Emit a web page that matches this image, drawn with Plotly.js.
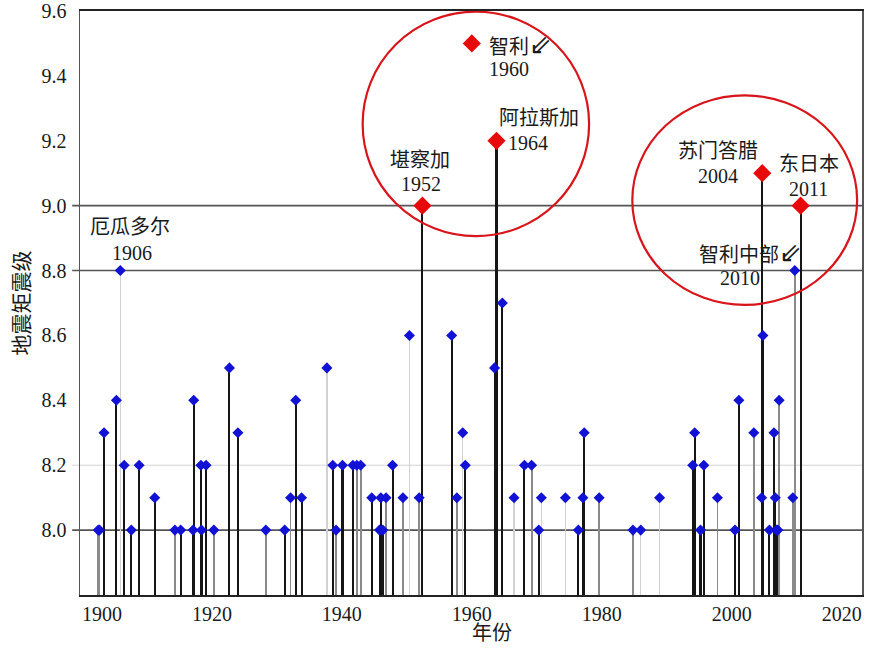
<!DOCTYPE html>
<html>
<head>
<meta charset="utf-8">
<script src="https://cdn.plot.ly/plotly-3.0.1.min.js"></script>
<style>html,body{margin:0;padding:0;background:#fff;}#chart{width:879px;height:648px;}</style>
</head>
<body>
<div id="chart"></div>
<script>
// ---- data: earthquakes of magnitude >= 8.0 ----
const years = [1902.5,1902.7,1903.4,1905.3,1905.9,1906.5,1907.6,1908.8,1911.2,1914.3,
  1915.2,1917.1,1917.2,1918.3,1918.4,1919.1,1920.3,1922.7,1924.0,1928.3,
  1931.2,1932.1,1932.9,1933.8,1937.7,1938.6,1939.1,1940.1,1941.7,1942.3,
  1942.9,1944.6,1945.8,1946.0,1946.3,1946.8,1947.8,1949.4,1950.4,1951.9,
  1956.9,1957.7,1958.6,1959.0,1963.5,1964.7,1966.5,1968.1,1969.2,1970.3,
  1970.7,1974.4,1976.4,1977.1,1977.3,1979.6,1984.8,1986.0,1988.9,1994.0,
  1994.3,1995.2,1995.7,1997.8,2000.5,2001.1,2003.4,2004.6,2004.8,2005.8,
  2006.5,2006.7,2006.9,2007.1,2007.3,2009.4,2009.7];
const mags = [8.0,8.0,8.3,8.4,8.8,8.2,8.0,8.2,8.1,8.0,
  8.0,8.0,8.4,8.2,8.0,8.2,8.0,8.5,8.3,8.0,
  8.0,8.1,8.4,8.1,8.5,8.2,8.0,8.2,8.2,8.2,
  8.2,8.1,8.0,8.1,8.0,8.1,8.2,8.1,8.6,8.1,
  8.6,8.1,8.3,8.2,8.5,8.7,8.1,8.2,8.2,8.0,
  8.1,8.1,8.0,8.1,8.3,8.1,8.0,8.0,8.1,8.2,
  8.3,8.0,8.2,8.1,8.0,8.4,8.3,8.1,8.6,8.0,
  8.3,8.1,8.0,8.0,8.4,8.1,8.8];
const stemTone = ['mid','mid','dark','dark','light','dark','dark','dark','dark','mid',
  'dark','dark','dark','dark','dark','dark','mid','dark','dark','mid',
  'dark','mid','dark','dark','light','dark','mid','dark','dark','mid',
  'mid','dark','dark','dark','dark','mid','dark','mid','light','mid',
  'dark','mid','light','dark','dark','dark','light','dark','mid','dark',
  'light','light','dark','dark','dark','mid','mid','light','light','dark',
  'dark','dark','dark','mid','dark','dark','mid','dark','dark','dark',
  'dark','dark','dark','dark','mid','mid','mid'];

// the largest events (highlighted in red)
const majorYears = [1952.4, 1960.0, 1963.8, 2004.7, 2010.6];
const majorMags  = [9.0, 9.5, 9.2, 9.1, 9.0];
const majorStemTone = ['dark','none','dark','dark','dark'];

// labelled events
const labelNames = ['厄瓜多尔','堪察加','智利','阿拉斯加','苏门答腊','智利中部','东日本'];
const labelArrow = [false,false,true,false,false,true,false];
const labelYearText = ['1906','1952','1960','1964','2004','2010','2011'];
const labelX   = [1905.9, 1952.4, 1960.0, 1963.8, 2004.7, 2009.7, 2010.6];
const labelMag = [8.8, 9.0, 9.5, 9.2, 9.1, 8.8, 9.0];

const xTicksInner = [1920,1940,1960,1980,2000];
const xTickFirst = [1900];
const xTickLast = [2020];
const yTicks = [8.0,8.2,8.4,8.6,8.8,9.0,9.2,9.4,9.6];

// ---- styling ----
const toneColor = {dark:'#151515', mid:'#8a8a8a', light:'#d2d2d2', none:'rgba(0,0,0,0)'};
const toneWidth = {dark:0.32, mid:0.28, light:0.22, none:0.2};
const FONT = "'Liberation Serif', 'Noto Sans CJK SC', serif";
const TXT = '#1a1a1a';
const X_RANGE = [1899.7, 2020.05];

const allX = years.concat(majorYears);
const allY = mags.concat(majorMags);
const allTone = stemTone.concat(majorStemTone);

const stems = {
  type:'bar', x: allX, y: allY,
  width: allTone.map(t => toneWidth[t]),
  marker:{color: allTone.map(t => toneColor[t]), line:{width:0}},
  hoverinfo:'skip', showlegend:false
};
const bluePts = {
  type:'scatter', mode:'markers', x: years, y: mags,
  marker:{symbol:'diamond', size:8.5, color:'#1212d4'},
  showlegend:false
};
const redPts = {
  type:'scatter', mode:'markers', x: majorYears, y: majorMags,
  marker:{symbol:'diamond', size:14, color:'#e80a0a'},
  showlegend:false
};
// empty carriers so the end-label axes are drawn
const axisCarrier2 = {type:'scatter', mode:'markers', x:[], y:[], xaxis:'x2', yaxis:'y', showlegend:false, hoverinfo:'skip'};
const axisCarrier3 = {type:'scatter', mode:'markers', x:[], y:[], xaxis:'x3', yaxis:'y', showlegend:false, hoverinfo:'skip'};

// label offsets in pixels: [name dx, name dy, year dx, year dy, name xanchor, year xanchor]
const labelOffsets = [
  [10,-44, 12,-18,'center','center'],
  [-2,-46, -1,-22,'center','center'],
  [15, 1, 15, 26,'left','left'],
  [42,-23, 31, 2,'center','center'],
  [-44,-22,-44, 3,'center','center'],
  [-98,-18,-55, 7,'left','center'],
  [8,-42, 8,-17,'center','center']
];
const ARROW = "<span style=\"font-family:'DejaVu Sans';font-size:27px\">⇙</span>";
const annotations = [];
labelNames.forEach((n,i) => {
  const o = labelOffsets[i];
  annotations.push({x:labelX[i], y:labelMag[i], xref:'x', yref:'y', text:n + (labelArrow[i] ? ARROW : ''), showarrow:false,
    xshift:o[0], yshift:-o[1], xanchor:o[4], yanchor:'middle', font:{family:FONT, size:20, color:TXT}});
  annotations.push({x:labelX[i], y:labelMag[i], xref:'x', yref:'y', text:labelYearText[i], showarrow:false,
    xshift:o[2], yshift:-o[3], xanchor:o[5], yanchor:'middle', font:{family:FONT, size:20, color:TXT}});
});
// x-axis title (placed slightly right of centre as in the reference)
annotations.push({x:0.527, y:0, xref:'paper', yref:'paper', yshift:-38, text:'年份', showarrow:false,
  xanchor:'center', yanchor:'middle', font:{family:FONT, size:20, color:TXT}});

const shapes = [];
[8.0, 8.8, 9.0].forEach(v => shapes.push({type:'line', xref:'paper', yref:'y', x0:-0.01, x1:1, y0:v, y1:v,
  line:{color:'#555', width:1.6}, layer:'below'}));
shapes.push({type:'line', xref:'paper', yref:'y', x0:-0.01, x1:1, y0:8.2, y1:8.2, line:{color:'#d4d4d4', width:1}, layer:'below'});
// red highlight circles
shapes.push({type:'circle', xref:'x', yref:'y', x0:1943.2, x1:1978.05, y0:8.906, y1:9.598, line:{color:'#d8151b', width:2.2}, layer:'above'});
shapes.push({type:'circle', xref:'x', yref:'y', x0:1984.7, x1:2019.3, y0:8.694, y1:9.34, line:{color:'#d8151b', width:2.2}, layer:'above'});

const tickFont = {family:FONT, size:20, color:TXT};
const layout = {
  width:879, height:648,
  margin:{l:80, r:17, t:11, b:53},
  paper_bgcolor:'#fff', plot_bgcolor:'#fff',
  barmode:'overlay', bargap:0,
  font:{family:FONT, size:20, color:TXT},
  xaxis:{range:X_RANGE, tickvals:xTicksInner, ticktext:xTicksInner.map(String), showgrid:false, zeroline:false,
    showline:true, linecolor:'#222', linewidth:2, mirror:true, ticks:'', tickfont:tickFont},
  // end-of-axis labels aligned inwards so they stay inside the figure
  xaxis2:{overlaying:'x', anchor:'y', side:'bottom', range:X_RANGE, tickvals:xTickFirst, ticktext:xTickFirst.map(String),
    ticklabelposition:'outside right', ticklabelstandoff:5, showgrid:false, zeroline:false, showline:false, ticks:'', tickfont:tickFont},
  xaxis3:{overlaying:'x', anchor:'y', side:'bottom', range:X_RANGE, tickvals:xTickLast, ticktext:xTickLast.map(String),
    ticklabelposition:'outside left', ticklabelstandoff:5, showgrid:false, zeroline:false, showline:false, ticks:'', tickfont:tickFont},
  yaxis:{range:[7.8,9.6], tickvals:yTicks, ticktext:yTicks.map(v=>v.toFixed(1)), showgrid:false, zeroline:false,
    showline:true, linecolor:'#555', linewidth:1.5, mirror:true, ticks:'', ticklabelstandoff:8,
    tickfont:tickFont,
    title:{text:'地震矩震级', font:{family:FONT, size:21, color:TXT}, standoff:6}},
  shapes: shapes,
  annotations: annotations
};

Plotly.newPlot('chart', [stems, bluePts, redPts, axisCarrier2, axisCarrier3], layout, {displayModeBar:false, staticPlot:true});
</script>
</body>
</html>
